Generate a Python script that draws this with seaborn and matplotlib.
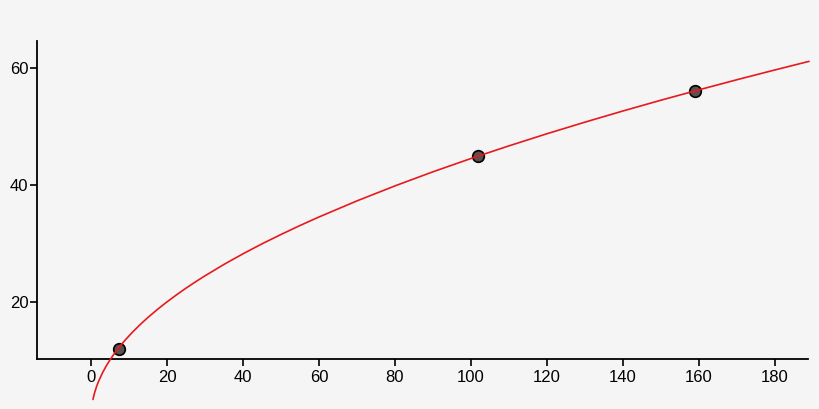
import pandas as pd
import matplotlib
matplotlib.use("Agg")
import matplotlib.pyplot as plt
import seaborn as sns

# pontos medidos
pts_x = [7.3, 101.8, 158.9]
pts_y = [12.1, 45.0, 56.1]

# curva ajustada
curve_x = [0.5, 0.75, 1, 1.5, 2, 3, 4, 5, 6, 7.5, 9, 11, 13, 15, 17.5, 20, 22.5, 25, 27.5,
           30, 35, 40, 45, 50, 55, 60, 70, 80, 90, 100, 110, 120, 130, 140, 150, 160, 170,
           180, 189]
curve_y = [3.40, 4.10, 4.70, 5.70, 6.53, 7.94, 9.13, 10.18, 11.12, 12.40, 13.56, 14.96,
           16.24, 17.43, 18.80, 20.08, 21.28, 22.42, 23.50, 24.53, 26.48, 28.29, 29.99,
           31.59, 33.12, 34.58, 37.33, 39.89, 42.30, 44.57, 46.73, 48.80, 50.78, 52.69,
           54.53, 56.30, 58.03, 59.70, 61.17]

xticks = [0, 20, 40, 60, 80, 100, 120, 140, 160, 180]
yticks = [20, 40, 60]

bg = "#f5f5f5"
sns.set_style("ticks", {"axes.facecolor": bg, "figure.facecolor": bg})
plt.rcParams["font.family"] = ["Liberation Sans", "DejaVu Sans"]

df_curve = pd.DataFrame({"x": curve_x, "y": curve_y})
df_pts = pd.DataFrame({"x": pts_x, "y": pts_y})

fig = plt.figure(figsize=(8.2, 4.09), dpi=100)
ax = fig.add_axes([0.0448, 0.1215, 0.94, 0.779])

sns.scatterplot(data=df_pts, x="x", y="y", ax=ax, s=70, color="#5a5050",
                edgecolor="black", linewidth=1.2, zorder=2)
sns.lineplot(data=df_curve, x="x", y="y", ax=ax, color="#e8191c", linewidth=1.2,
             zorder=3, clip_on=False)

ax.set_xlim(-14.3, 188.6)
ax.set_ylim(10.26, 64.7)
ax.set_xticks(xticks)
ax.set_yticks(yticks)
ax.set_xlabel("")
ax.set_ylabel("")
ax.tick_params(axis="both", direction="out", length=5, width=1.2, labelsize=12,
               colors="black")
ax.tick_params(axis="y", pad=1)
ax.tick_params(axis="x", pad=3)
for s in ["left", "bottom"]:
    ax.spines[s].set_linewidth(1.3)
    ax.spines[s].set_color("black")
sns.despine(ax=ax)

fig.savefig("out.png", dpi=100, facecolor=bg)
